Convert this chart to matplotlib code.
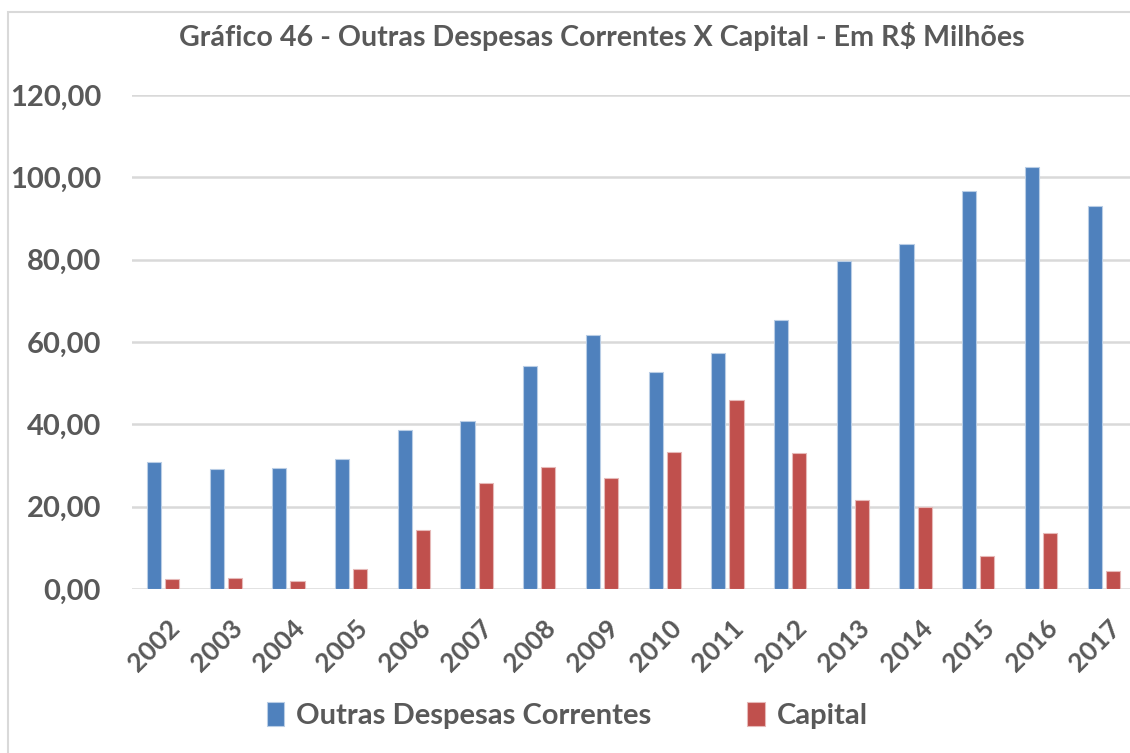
import matplotlib

matplotlib.use("Agg")
import matplotlib.pyplot as plt
import matplotlib.transforms as mtransforms
import numpy as np
from matplotlib.patches import Rectangle

plt.rcParams["font.family"] = ["Lato", "DejaVu Sans"]

anos = ["2002", "2003", "2004", "2005", "2006", "2007", "2008", "2009",
        "2010", "2011", "2012", "2013", "2014", "2015", "2016", "2017"]
outras_correntes = [30.8, 29.1, 29.4, 31.7, 38.6, 40.7, 54.2, 61.7,
                    52.6, 57.3, 65.3, 79.8, 83.9, 96.8, 102.4, 93.0]
capital = [2.4, 2.7, 2.0, 4.9, 14.3, 25.7, 29.7, 26.9,
           33.2, 46.0, 33.0, 21.7, 20.0, 8.1, 13.6, 4.3]
y_ticks = [0, 20, 40, 60, 80, 100, 120]

AZUL = "#4F81BD"
VERMELHO = "#C0504D"
TEXTO = "#595959"
PESO = "bold"

fig = plt.figure(figsize=(11.3, 7.53), dpi=100)
ax = fig.add_axes([0.1165, 0.2178, 0.888, 0.656])

x = np.arange(len(anos))
w = 0.225
ax.bar(x - 0.144, outras_correntes, w, color=AZUL, edgecolor="#b9cde5",
       linewidth=0.8, label="Outras Despesas Correntes", zorder=3)
ax.bar(x + 0.144, capital, w, color=VERMELHO, edgecolor="#e6b9b8",
       linewidth=0.8, label="Capital", zorder=3)

ax.set_xlim(-0.5, len(anos) - 0.5)
ax.set_ylim(0, 120)
ax.set_yticks(y_ticks)
ax.set_yticklabels([f"{v:.2f}".replace(".", ",") for v in y_ticks])
ax.yaxis.grid(True, color="#d9d9d9", linewidth=1.8, zorder=0)
ax.set_axisbelow(True)
for s in ax.spines.values():
    s.set_visible(False)
ax.tick_params(axis="both", length=0, colors=TEXTO)
ax.tick_params(axis="y", pad=22)
for lab in ax.get_yticklabels():
    lab.set_fontsize(21)
    lab.set_fontweight(PESO)

ax.set_xticks(x)
ax.set_xticklabels(anos, rotation=45, ha="right", rotation_mode="anchor",
                   fontsize=19, fontweight=PESO, color=TEXTO)
ax.tick_params(axis="x", pad=19)
# desloca os rótulos inclinados um pouco para a direita
desloc = mtransforms.ScaledTranslation(4 / 100, 0, fig.dpi_scale_trans)
for lab in ax.get_xticklabels():
    lab.set_transform(lab.get_transform() + desloc)

fig.text(0.533, 1 - 46 / 753,
         "Gráfico 46 - Outras Despesas Correntes X Capital - Em R$ Milhões",
         ha="center", va="baseline", fontsize=20.6, fontweight=PESO, color=TEXTO)

leg = fig.legend(loc="center", bbox_to_anchor=(0.502, 0.05), ncol=2, frameon=False,
                 prop={"size": 21, "weight": PESO}, handlelength=0.6,
                 handleheight=0.9, handletextpad=0.4, columnspacing=3.3)
for t in leg.get_texts():
    t.set_color(TEXTO)

# moldura externa do gráfico
fig.patches.append(Rectangle((8 / 1130, -0.1), 1.2, (753 - 12) / 753 + 0.1,
                             transform=fig.transFigure, fill=False,
                             edgecolor="#d9d9d9", linewidth=1.5))

fig.savefig("out.png", dpi=100)
